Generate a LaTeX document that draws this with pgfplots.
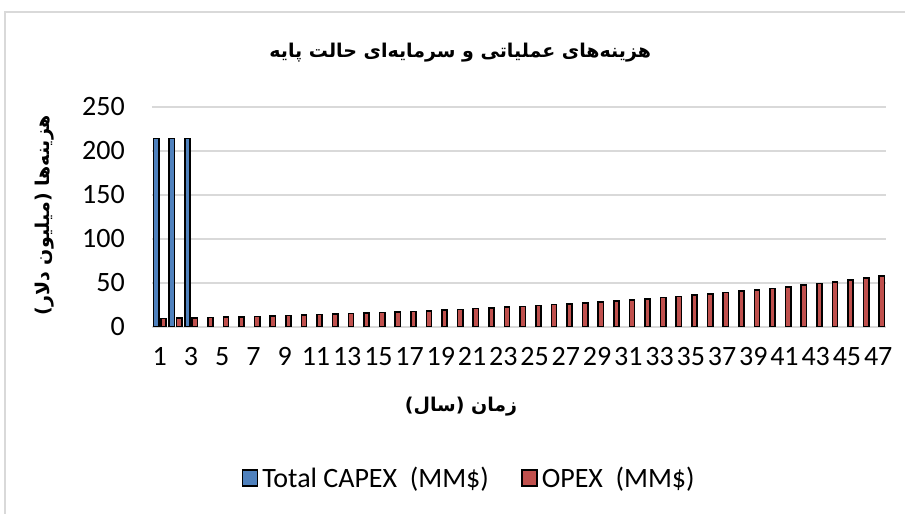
\documentclass[border=0pt]{standalone}
\usepackage{fontspec}
\setmainfont{Carlito}
\newfontfamily\arabicfont[Script=Arabic]{DejaVu Sans}
\TeXXeTstate=1
\usepackage{pgfplots}
\pgfplotsset{compat=1.18}
\definecolor{capexblue}{HTML}{4F81BD}
\definecolor{opexred}{HTML}{C0504D}
\definecolor{gridgray}{HTML}{D9D9D9}
\begin{document}
\begin{tikzpicture}[x=1pt,y=1pt]
\path[use as bounding box] (0,0) rectangle (905,514);
\draw[gridgray,line width=1.5pt] (5,-5) -- (5,502) -- (910,502);
\begin{axis}[
  at={(152pt,187pt)}, anchor=south west,
  scale only axis, width=734pt, height=220pt,
  xmin=0.5, xmax=47.5, ymin=0, ymax=250,
  axis x line*=bottom, axis y line*=left,
  x axis line style={gridgray,line width=1.2pt},
  y axis line style={draw=none},
  ymajorgrids, grid style={gridgray,line width=1.2pt},
  ytick={0,50,100,150,200,250},
  xtick={1,3,...,47},
  major tick length=0pt,
  /pgf/number format/assume math mode=true,
  yticklabel style={font=\fontsize{28}{32}\selectfont, inner sep=0pt, anchor=east, xshift=-27pt},
  xticklabel style={font=\fontsize{28}{32}\selectfont, inner sep=0pt, anchor=north, yshift=-20pt},
  ybar, bar width=5.2pt,
  title={\arabicfont\bfseries\fontsize{19}{22}\selectfont\beginR هزینه‌های عملیاتی و سرمایه‌ای حالت پایه\endR},
  title style={at={(axis description cs:0.42,1.22)}, anchor=center, inner sep=0pt},
  xlabel={\arabicfont\bfseries\fontsize{19}{21}\selectfont\beginR زمان (سال)\endR},
  xlabel style={at={(axis description cs:0.421,-0.364)}, anchor=center, inner sep=0pt},
  ylabel={\arabicfont\bfseries\fontsize{19}{21}\selectfont\beginR هزینه‌ها (میلیون دلار)\endR},
  ylabel style={at={(axis description cs:-0.146,0.509)}, anchor=center, inner sep=0pt},
  legend columns=2,
  legend style={at={(axis description cs:0.432,-0.686)}, anchor=center, draw=none,
    font=\fontsize{28}{31}\selectfont, column sep=2pt, inner sep=0pt,
    nodes={inner sep=2pt},
    /tikz/every even column/.append style={column sep=30pt}},
  legend image code/.code={\draw[#1,line width=1.8pt] (0pt,-8pt) rectangle (15pt,8pt);},
]
\addplot[fill=capexblue, draw=black, line width=1.6pt, bar shift=-3.7pt] coordinates {
(1,214) (2,214) (3,214)};
\addlegendentry{Total CAPEX\ \ (MM\$)}
\addplot[fill=opexred, draw=black, line width=1.6pt, bar shift=3.7pt] coordinates {
(1,9.5) (2,9.9) (3,10.3) (4,10.7) (5,11.1) (6,11.6) (7,12.0) (8,12.5) (9,13.0) (10,13.5)
(11,14.1) (12,14.6) (13,15.2) (14,15.8) (15,16.5) (16,17.1) (17,17.8) (18,18.5) (19,19.3) (20,20.0)
(21,20.8) (22,21.7) (23,22.5) (24,23.4) (25,24.4) (26,25.4) (27,26.4) (28,27.4) (29,28.5) (30,29.7)
(31,30.9) (32,32.1) (33,33.4) (34,34.7) (35,36.1) (36,37.5) (37,39.0) (38,40.6) (39,42.2) (40,43.9)
(41,45.7) (42,47.5) (43,49.4) (44,51.4) (45,53.4) (46,55.6) (47,57.8)};
\addlegendentry{OPEX\ \ (MM\$)}
\end{axis}
\end{tikzpicture}
\end{document}
